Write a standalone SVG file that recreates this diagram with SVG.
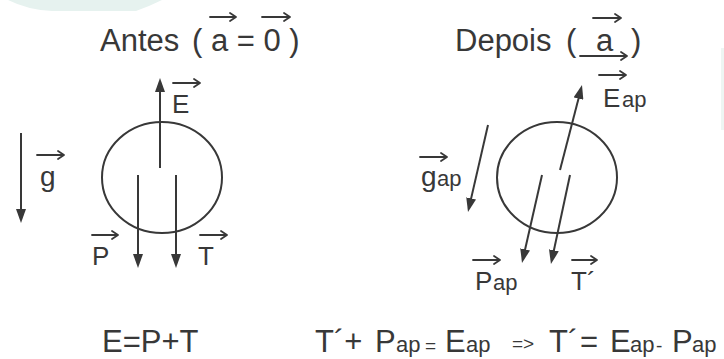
<svg xmlns="http://www.w3.org/2000/svg" width="724" height="359" viewBox="0 0 724 359">
<defs>
<marker id="ah" markerUnits="userSpaceOnUse" viewBox="0 0 14 10" refX="10" refY="5" markerWidth="14" markerHeight="10" orient="auto">
<path d="M0 0 L14 5 L0 10 Z" fill="#383838"/>
</marker>
<style>
text{font-family:"Liberation Sans",Arial,sans-serif;fill:#383838}
.t{font-size:31px}
.lb{font-size:26px}
.sub{font-size:22px}
.eq{font-size:31px}
.eqs{font-size:22px}
.sm{font-size:19px}
.vec{fill:none;stroke:#383838;stroke-width:1.8;stroke-linecap:round;stroke-linejoin:round}
.ln{fill:none;stroke:#383838;stroke-width:2}
.body{fill:none;stroke:#383838;stroke-width:2}
</style>
</defs>
<rect width="724" height="359" fill="#ffffff"/>
<path d="M8 0 Q28 10 52 11 L136 11 Q150 6 162 0 Z" fill="#e6f2ef"/>
<rect x="721" y="48" width="3" height="82" fill="#eef5f3"/>

<g id="title-antes">
<text class="t" x="100" y="51">Antes</text>
<text class="t" x="192" y="51">( a = 0 )</text>
<path class="vec" d="M210 17 H236 M230 13 L236 17 L230 21"/>
<path class="vec" d="M262 17 H290 M284 13 L290 17 L284 21"/>
</g>

<g id="title-depois">
<text class="t" x="455" y="51">Depois</text>
<text class="t" x="566" y="51">(</text>
<text class="t" x="596" y="51">a</text>
<text class="t" x="631" y="51">)</text>
<path class="vec" d="M593 18 H621 M615 14 L621 18 L615 22"/>
<path class="vec" d="M580 56 H627 M621 52 L627 56 L621 60"/>
</g>

<g id="body-antes">
<ellipse class="body" cx="162" cy="177.5" rx="60" ry="55.5"/>
</g>
<g id="body-depois">
<ellipse class="body" cx="557" cy="177.5" rx="60" ry="55.5"/>
</g>

<g id="label-g">
<text class="lb" x="40" y="186" style="font-size:28px">g</text>
<path class="vec" d="M37 155 H64 M58 151 L64 155 L58 159"/>
</g>
<g id="label-E">
<text class="lb" x="172" y="113">E</text>
<path class="vec" d="M173 83 H200 M194 79 L200 83 L194 87"/>
</g>
<g id="label-P">
<text class="lb" x="92" y="265">P</text>
<path class="vec" d="M92 235 H118 M112 231 L118 235 L112 239"/>
</g>
<g id="label-T">
<text class="lb" x="198" y="265">T</text>
<path class="vec" d="M200 235 H227 M221 231 L227 235 L221 239"/>
</g>

<g id="label-Eap">
<text class="lb" x="603" y="107">E</text>
<text class="sub" x="622" y="107">ap</text>
<path class="vec" d="M599 75 H626 M620 71 L626 75 L620 79"/>
</g>
<g id="label-gap">
<text class="lb" x="421" y="186" style="font-size:28px">g</text>
<text class="sub" x="437" y="186">ap</text>
<path class="vec" d="M420 157 H447 M441 153 L447 157 L441 161"/>
</g>
<g id="label-Pap">
<text class="lb" x="475" y="290">P</text>
<text class="sub" x="493" y="290">ap</text>
<path class="vec" d="M473 260 H500 M494 256 L500 260 L494 264"/>
</g>
<g id="label-Tp">
<text class="lb" x="571" y="290">T´</text>
<path class="vec" d="M572 260 H597 M591 256 L597 260 L591 264"/>
</g>

<g id="connectors">
<line class="ln" x1="21" y1="133" x2="21" y2="219" marker-end="url(#ah)"/>
<line class="ln" x1="160" y1="168" x2="160" y2="82" marker-end="url(#ah)"/>
<line class="ln" x1="138" y1="175" x2="138" y2="264" marker-end="url(#ah)"/>
<line class="ln" x1="176" y1="175" x2="176" y2="264" marker-end="url(#ah)"/>
<line class="ln" x1="560" y1="170" x2="581" y2="88.9" marker-end="url(#ah)"/>
<line class="ln" x1="488" y1="125" x2="468.9" y2="208.1" marker-end="url(#ah)"/>
<line class="ln" x1="542" y1="175" x2="522.9" y2="259.1" marker-end="url(#ah)"/>
<line class="ln" x1="570" y1="175" x2="551.8" y2="260.1" marker-end="url(#ah)"/>
</g>

<g id="eq-antes">
<text class="eq" x="102" y="352">E=P+T</text>
</g>
<g id="eq-depois">
<text class="eq" x="315" y="352">T´+</text>
<text class="eq" x="375" y="352">P</text>
<text class="eqs" x="396" y="352">ap</text>
<text class="sm" x="425" y="352">=</text>
<text class="eq" x="445" y="352">E</text>
<text class="eqs" x="466" y="352">ap</text>
<text class="sm" x="512" y="350">=&gt;</text>
<text class="eq" x="549" y="352">T´</text>
<text class="eq" x="580" y="352">=</text>
<text class="eq" x="610" y="352">E</text>
<text class="eqs" x="630" y="352">ap</text>
<text class="sm" x="656" y="352">-</text>
<text class="eq" x="672" y="352">P</text>
<text class="eqs" x="692" y="352">ap</text>
</g>
</svg>
